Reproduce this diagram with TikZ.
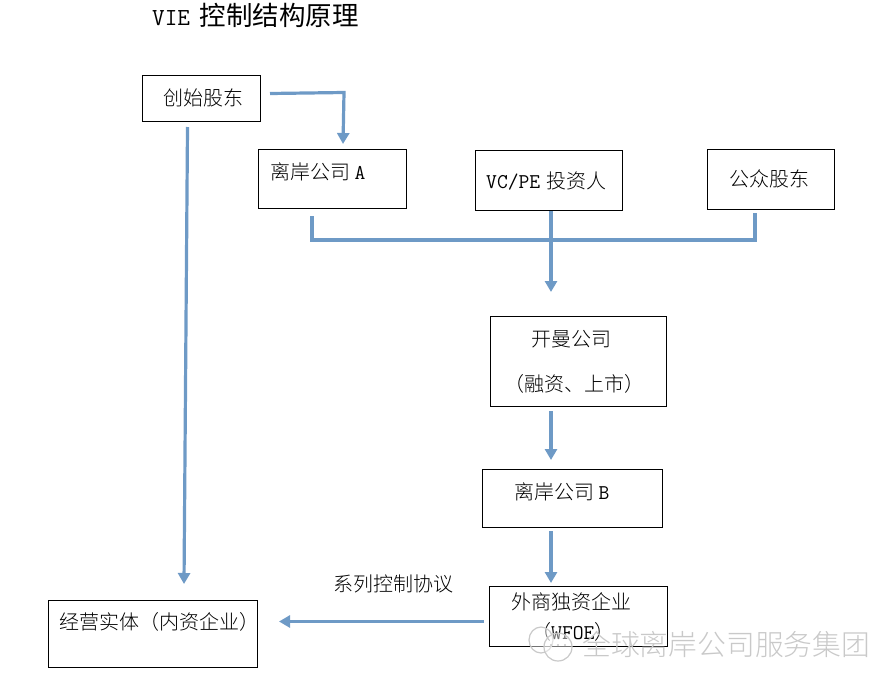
\documentclass[tikz,border=0pt]{standalone}
\usepackage{fontspec}
\setmainfont{Noto Sans CJK SC Light}[BoldFont={Noto Sans CJK SC}]
\newfontfamily\wmfont{Noto Sans CJK SC Light}
\newfontfamily\titlefont{Noto Sans CJK SC}
\usetikzlibrary{arrows.meta}
\definecolor{conn}{HTML}{6E9AC6}
\definecolor{wm}{HTML}{C9C9C9}
\newcommand{\lat}[1]{{\ttfamily\fontsize{21}{24}\selectfont #1}}
\tikzset{
  box/.style={draw=black,line width=1pt,inner sep=0pt,anchor=north west,fill=white},
  txt/.style={inner sep=0pt,anchor=west,text=black,font=\fontsize{20}{24}\selectfont},
  link/.style={draw=conn,line width=3.2pt},
  arrow/.style={link,-{Triangle[length=11pt,width=12pt]}},
  wmark/.style={inner sep=0pt,anchor=west,text=wm,font=\wmfont\fontsize{28.8}{30}\selectfont},
  wmicon/.style={draw=wm,line width=1.2pt,fill=white,fill opacity=0.45}
}
\begin{document}
\begin{tikzpicture}[x=1pt,y=-1pt]
\useasboundingbox (0,0) rectangle (896,688);
\node[inner sep=0pt,anchor=west,text=black,font=\titlefont\fontsize{26.5}{30}\selectfont] (title) at (152,15) {{\ttfamily\fontsize{24.5}{28}\selectfont VIE} \hspace{4pt}控制结构原理};
% boxes
\node[box,minimum width=118pt,minimum height=46pt] (founder) at (142,75) {};
\node[box,minimum width=148pt,minimum height=59pt] (a) at (258,149) {};
\node[box,minimum width=147pt,minimum height=60pt] (vc) at (475,150) {};
\node[box,minimum width=127pt,minimum height=60pt] (pub) at (707,149) {};
\node[box,minimum width=176pt,minimum height=90pt] (cayman) at (490,316) {};
\node[box,minimum width=180pt,minimum height=58pt] (b) at (482,469) {};
\node[box,minimum width=178pt,minimum height=60pt] (wfoe) at (489,586) {};
\node[box,minimum width=209pt,minimum height=67pt] (entity) at (48,600) {};
% reference columns of the connectors
\coordinate (xa) at (343,0);
\coordinate (xbar) at (312,0);
\coordinate (xpub) at (755,0);
\coordinate (xmain) at (551,0);
% box texts
\node[txt] (t1) at (163,98) {创始股东};
\node[txt] (t2) at (270,172) {离岸公司 \lat{A}};
\node[txt] (t3) at (486,181) {\lat{VC/PE} \hspace{2pt}投资人};
\node[txt] (t4) at (729,179) {公众股东};
\node[txt] (t5) at (531,339) {开曼公司};
\node[txt] (t6) at (504,384) {（融资、上市）};
\node[txt] (t7) at (514,492) {离岸公司 \lat{B}};
\node[txt] (t8) at (511,602) {外商独资企业};
\node[txt] (t9) at (531,632) {（\lat{WFOE}）};
\node[txt] (t10) at (59,622) {经营实体（内资企业）};
\node[txt] (t11) at (333,584) {系列控制协议};
% connectors
\draw[arrow] ([shift={(9,-5)}]founder.east) -- ([shift={(83,-6)}]founder.east) -- ([yshift=5pt]a.north -| xa);
\draw[arrow] ([shift={(-14,5)}]founder.south) -- ([shift={(136,-16)}]entity.north west);
\draw[link] ([yshift=-7pt]a.south -| xbar) -- ++(0,24) -| ([yshift=-3pt]pub.south -| xpub);
\draw[arrow] (vc.south -| xmain) -- ([yshift=24pt]cayman.north -| xmain);
\draw[arrow] ([yshift=-4pt]cayman.south -| xmain) -- ([yshift=9pt]b.north -| xmain);
\draw[arrow] ([yshift=-3pt]b.south -| xmain) -- ([yshift=3pt]wfoe.north -| xmain);
\draw[arrow] ([shift={(-5,5)}]wfoe.west) -- ([shift={(21,-12.5)}]entity.east);
% watermark
\draw[wmicon] (541,640) ellipse (12 and 13);
\draw[wmicon] (558,647) ellipse (14 and 14);
\fill[wm] (551,645) circle (1.2) (558,645) circle (1.2) (565,645) circle (1.2);
\node[wmark] (wm) at (582,644) {全球离岸公司服务集团};
\end{tikzpicture}
\end{document}
